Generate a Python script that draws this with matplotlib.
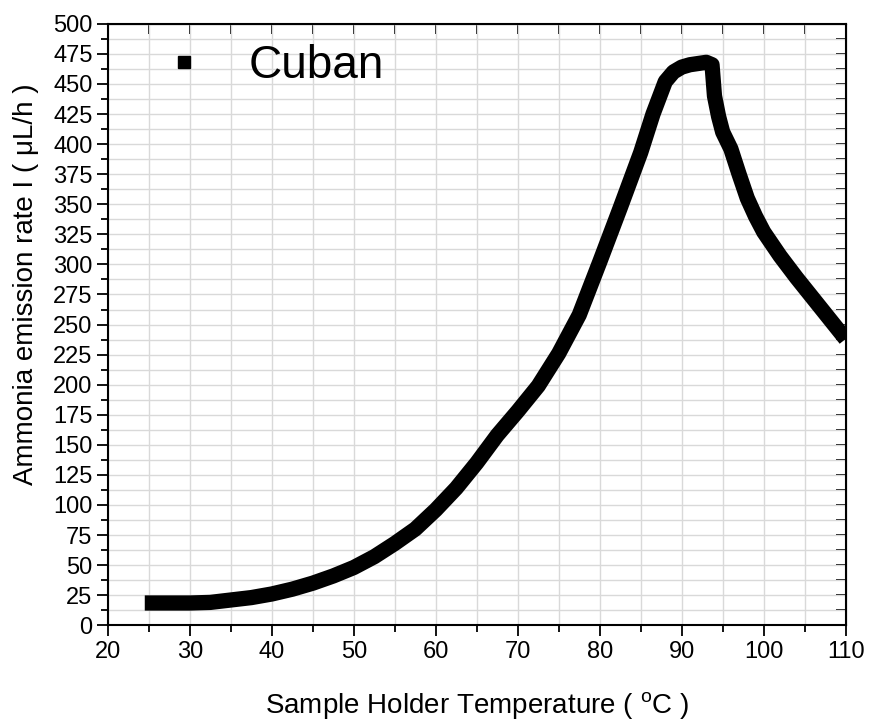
import matplotlib.pyplot as plt
from matplotlib.lines import Line2D
from matplotlib.ticker import MultipleLocator

plt.rcParams['font.family'] = ['Liberation Sans', 'DejaVu Sans']
plt.rcParams['mathtext.fontset'] = 'custom'
plt.rcParams['mathtext.rm'] = 'Liberation Sans'

# values
temp = [24.5, 27, 30, 32.5, 35, 37.5, 40, 42.5, 45, 47.5, 50, 52.5, 55, 57.5,
        60, 62.5, 65, 67.5, 70, 72.5, 75, 77.5, 80, 82.5, 85, 86.5, 88, 89,
        90, 91, 92, 93, 93.7, 94, 94.5, 95, 96, 97, 98, 99, 100, 102, 104,
        106, 108, 110]
rate = [18.5, 18.5, 18.5, 19, 21, 23, 26, 30, 35, 41, 48, 57, 68, 80,
        96, 114, 135, 158, 178, 199, 226, 258, 302, 347, 393, 425, 452, 460,
        464, 466, 467, 468, 466, 440, 423, 410, 396, 375, 355, 340, 327, 307, 289,
        272, 255, 238]
label = 'Cuban'

fig, ax = plt.subplots(figsize=(8.7, 7.22), dpi=100)
fig.subplots_adjust(left=0.124, right=0.972, top=0.967, bottom=0.134)

ax.plot(temp, rate, color='black', lw=11, solid_capstyle='butt',
        solid_joinstyle='round', zorder=3)

ax.set_xlim(20, 110)
ax.set_ylim(0, 500)
ax.xaxis.set_major_locator(MultipleLocator(10))
ax.xaxis.set_minor_locator(MultipleLocator(5))
ax.yaxis.set_major_locator(MultipleLocator(25))
ax.yaxis.set_minor_locator(MultipleLocator(12.5))
ax.grid(True, which='both', color='#d9d9d9', lw=1.0, zorder=0)
ax.set_axisbelow(True)

ax.tick_params(which='major', direction='out', length=8, width=1.3,
               labelsize=17, pad=3)
ax.tick_params(which='minor', direction='out', length=5, width=1.3)
for s in ax.spines.values():
    s.set_linewidth(1.5)

# top and right axes with inward ticks, no labels
top = ax.secondary_xaxis('top')
top.xaxis.set_major_locator(MultipleLocator(5))
top.tick_params(direction='in', length=7, width=1.3, labeltop=False)
top.set_xticklabels([])
right = ax.secondary_yaxis('right')
right.yaxis.set_major_locator(MultipleLocator(12.5))
right.tick_params(direction='in', length=7, width=1.3, labelright=False)
right.set_yticklabels([])

ax.set_xlabel('Sample Holder Temperature ( $^{\\mathrm{o}}$C )', fontsize=20)
ax.set_ylabel('Ammonia emission rate I ( \u03bcL/h )', fontsize=20)
ax.xaxis.set_label_coords(0.5, -0.108)
ax.yaxis.set_label_coords(-0.094, 0.567)

handle = Line2D([], [], color='black', marker='s', linestyle='none', markersize=9)
ax.legend([handle], [label], loc='upper left', bbox_to_anchor=(0.0, 1.035),
          frameon=False, fontsize=33, handletextpad=0.68, handlelength=1.5)

plt.savefig('out.png', dpi=100)
